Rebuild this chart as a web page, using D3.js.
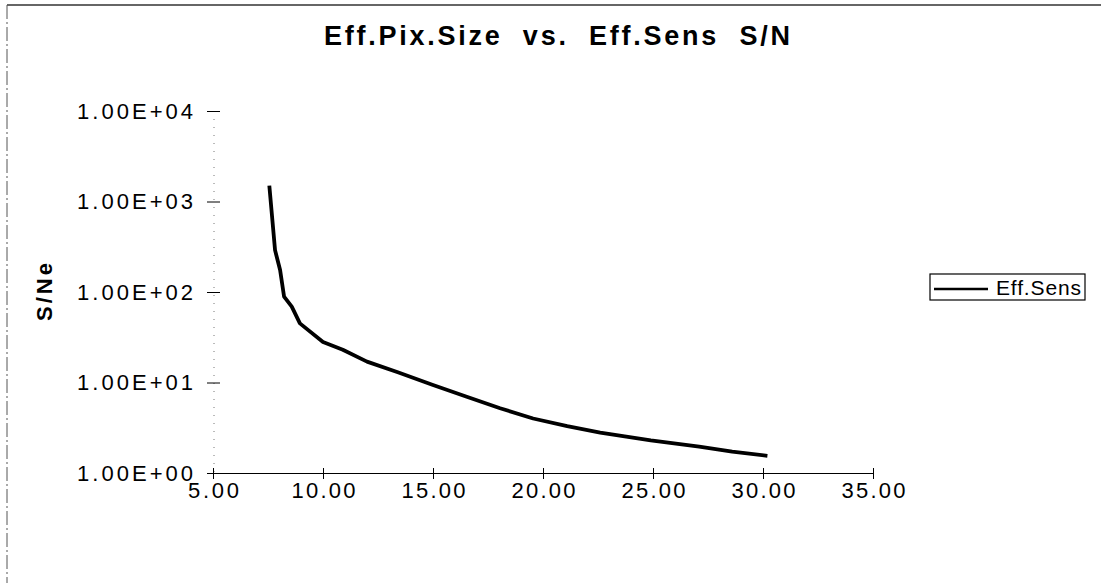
<!DOCTYPE html>
<html>
<head>
<meta charset="utf-8">
<script src="https://cdn.jsdelivr.net/npm/d3@7"></script>
<style>
  html, body { margin: 0; padding: 0; background: #fff; }
  svg { display: block; font-family: "Liberation Sans", Arial, Helvetica, sans-serif; }
</style>
</head>
<body>
<svg id="chart" width="1101" height="583"></svg>
<script>
// ---- data ----
const titleText = "Eff.Pix.Size  vs.  Eff.Sens  S/N";
const yAxisTitle = "S/Ne";
const seriesName = "Eff.Sens";
const effPixSize = [7.56, 7.82, 8.05, 8.23, 8.58, 8.95, 10.0, 10.9, 12.0, 13.4, 15.0, 16.5, 18.05, 19.55, 21.1, 22.6, 24.9, 27.1, 28.6, 30.2];
const effSens    = [1500, 290, 175, 89, 69, 45, 28, 23, 17, 13, 9.4, 7.0, 5.2, 4.0, 3.3, 2.8, 2.3, 1.96, 1.72, 1.55];
const xTicks = [5, 10, 15, 20, 25, 30, 35];
const yTicks = [1, 10, 100, 1000, 10000];

// ---- layout ----
const svg = d3.select("#chart");
const x = d3.scaleLinear().domain([5, 35]).range([213, 873]);
const y = d3.scaleLog().domain([1, 10000]).range([473, 111]);

// outer frame (top + left edges visible)
svg.append("line").attr("x1", 7).attr("x2", 1101).attr("y1", 5).attr("y2", 5)
  .attr("stroke", "#333").attr("stroke-width", 1.5);
svg.append("line").attr("x1", 7).attr("x2", 7).attr("y1", 5).attr("y2", 583)
  .attr("stroke", "#555").attr("stroke-width", 1).attr("stroke-dasharray", "14,3,2,3");

// title
svg.append("text").attr("x", 557).attr("y", 45).attr("text-anchor", "middle")
  .style("white-space", "pre").attr("xml:space", "preserve")
  .attr("font-size", 27).attr("font-weight", "bold").attr("fill", "#000")
  .attr("textLength", 466).attr("lengthAdjust", "spacing")
  .text(titleText);

// y axis (faint dotted line)
svg.append("line").attr("x1", 214).attr("x2", 214).attr("y1", y(10000)).attr("y2", y(1))
  .attr("stroke", "#777").attr("stroke-width", 1).attr("stroke-dasharray", "1,7");

const fmtE = v => {
  const e = Math.round(Math.log10(v));
  return (v / Math.pow(10, e)).toFixed(2) + "E+" + String(e).padStart(2, "0");
};

const yAxis = d3.axisLeft(y).tickValues(yTicks).tickFormat(fmtE).tickSizeInner(7).tickSizeOuter(0).tickPadding(14);
const gy = svg.append("g").attr("transform", "translate(214,0)").call(yAxis);
gy.select(".domain").remove();
gy.selectAll(".tick line").attr("x1", -7).attr("x2", 6).attr("stroke", "#000").attr("stroke-width", 1);
gy.selectAll(".tick text").attr("font-size", 22).attr("fill", "#000")
  .attr("font-family", "'Liberation Sans', Arial, sans-serif")
  .attr("textLength", 116).attr("lengthAdjust", "spacing");

// x axis
const xAxis = d3.axisBottom(x).tickValues(xTicks).tickFormat(d3.format(".2f")).tickSizeInner(6).tickSizeOuter(0).tickPadding(3);
const gx = svg.append("g").attr("transform", "translate(0,473)").call(xAxis);
gx.select(".domain").attr("stroke", "#000").attr("stroke-width", 1.2);
gx.selectAll(".tick line").attr("y1", -5).attr("y2", 6).attr("stroke", "#000");
gx.selectAll(".tick text").attr("font-size", 22).attr("fill", "#000")
  .attr("font-family", "'Liberation Sans', Arial, sans-serif")
  .each(function(d) {
    const s = d3.format(".2f")(d);
    d3.select(this).attr("textLength", s.length === 4 ? 51 : 64).attr("lengthAdjust", "spacing");
  });

// y axis title
svg.append("text").attr("transform", "translate(52,292) rotate(-90)")
  .attr("text-anchor", "middle").attr("font-size", 22).attr("font-weight", "bold")
  .attr("textLength", 58).attr("lengthAdjust", "spacing")
  .text(yAxisTitle);

// series line
const pts = effPixSize.map((v, i) => [v, effSens[i]]);
svg.append("path").datum(pts)
  .attr("fill", "none").attr("stroke", "#000").attr("stroke-width", 3.8)
  .attr("stroke-linejoin", "round")
  .attr("d", d3.line().x(d => x(d[0])).y(d => y(d[1])));

// legend
const lg = svg.append("g");
lg.append("rect").attr("x", 930).attr("y", 274).attr("width", 155).attr("height", 26)
  .attr("fill", "none").attr("stroke", "#000").attr("stroke-width", 1.2);
lg.append("line").attr("x1", 934).attr("x2", 988).attr("y1", 289).attr("y2", 289)
  .attr("stroke", "#000").attr("stroke-width", 2.5);
lg.append("text").attr("x", 996).attr("y", 295).attr("font-size", 21).attr("fill", "#000")
  .attr("textLength", 85).attr("lengthAdjust", "spacing")
  .text(seriesName);
</script>
</body>
</html>
